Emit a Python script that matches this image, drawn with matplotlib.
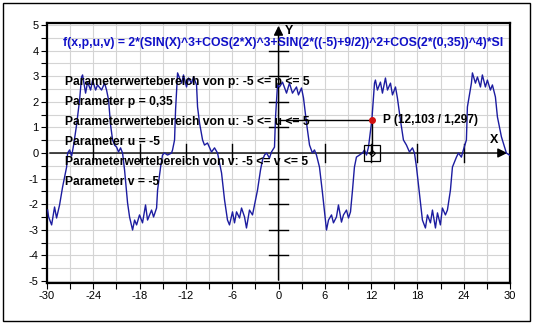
import numpy as np
import matplotlib
matplotlib.use("Agg")
import matplotlib.pyplot as plt
from matplotlib.patches import Rectangle

# curve
x_vals = [-29.92, -29.79, -29.40, -29.02, -28.76, -28.37, -27.98, -27.46, -27.33, -27.07,
          -26.81, -26.55, -26.17, -25.78, -25.52, -25.39, -25.00, -24.74, -24.35, -24.09,
          -23.70, -23.45, -22.93, -22.54, -22.28, -22.02, -21.76, -21.50, -21.24, -20.98,
          -20.73, -20.47, -20.21, -19.95, -19.56, -19.30, -18.91, -18.65, -18.39, -18.01,
          -17.62, -17.23, -16.97, -16.45, -16.19, -15.80, -15.67, -15.28, -15.03, -14.77,
          -14.38, -13.86, -13.73, -13.47, -13.34, -13.08, -12.56, -12.31, -11.92, -11.66,
          -11.27, -11.01, -10.62, -10.49, -10.23, -9.84, -9.59, -9.20, -8.68, -8.29,
          -7.90, -7.38, -6.99, -6.61, -6.35, -5.96, -5.70, -5.44, -5.05, -4.79,
          -4.40, -4.15, -3.76, -3.37, -3.11, -2.72, -2.33, -2.07, -1.81, -1.55,
          -1.17, -0.91, -0.52, -0.39, -0.13, 0.13, 0.52, 1.04, 1.42, 1.81,
          2.33, 2.59, 2.98, 3.24, 3.63, 4.02, 4.40, 4.66, 4.92, 5.31,
          5.70, 6.22, 6.48, 6.87, 7.12, 7.51, 7.77, 8.16, 8.42, 8.81,
          9.07, 9.33, 9.59, 9.84, 10.10, 10.49, 10.88, 11.14, 11.40, 11.66,
          12.10, 12.44, 12.56, 12.82, 13.21, 13.47, 13.86, 14.12, 14.51, 14.77,
          15.16, 15.41, 15.80, 16.19, 16.58, 16.97, 17.36, 17.62, 17.88, 18.26,
          18.65, 19.04, 19.30, 19.69, 19.95, 20.34, 20.60, 20.98, 21.24, 21.63,
          21.89, 22.28, 22.54, 23.06, 23.32, 23.70, 23.96, 24.35, 24.48, 25.00,
          25.13, 25.52, 25.78, 26.17, 26.42, 26.81, 27.07, 27.46, 27.72, 28.11,
          28.37, 28.89, 29.53, 29.92]
y_vals = [-2.23, -2.50, -2.81, -2.11, -2.54, -2.03, -1.33, -0.55, 0.00, 0.12,
          -0.12, 0.31, 1.09, 2.07, 2.97, 3.05, 2.34, 2.77, 2.46, 2.85,
          2.46, 2.66, 2.46, 2.73, 2.46, 2.07, 1.09, 0.51, 0.31, 0.23,
          0.04, 0.20, 0.00, -0.66, -1.95, -2.50, -3.01, -2.62, -2.81, -2.42,
          -2.73, -2.03, -2.62, -2.23, -2.50, -2.15, -1.45, -0.55, -0.08, 0.00,
          -0.08, 0.00, 0.12, 0.51, 1.68, 3.13, 2.73, 3.05, 2.58, 2.93,
          2.73, 2.97, 2.66, 1.80, 1.17, 0.51, 0.31, 0.39, 0.04, 0.20,
          0.00, -0.78, -1.84, -2.62, -2.81, -2.30, -2.73, -2.30, -2.54, -2.15,
          -2.50, -2.93, -2.23, -2.42, -2.03, -1.45, -0.66, -0.27, -0.08, 0.00,
          -0.20, 0.04, 0.23, 1.37, 2.66, 2.58, 2.77, 2.34, 2.73, 2.34,
          2.58, 2.27, 2.54, 2.15, 1.17, 0.31, 0.00, 0.12, -0.08, -0.55,
          -1.56, -3.01, -2.62, -2.42, -2.73, -2.50, -2.03, -2.70, -2.42, -2.23,
          -2.54, -2.30, -1.45, -0.55, -0.16, -0.08, 0.00, 0.12, -0.08, 0.23,
          1.297, 2.73, 2.85, 2.46, 2.77, 2.34, 2.93, 2.46, 2.73, 2.27,
          2.58, 2.15, 1.29, 0.51, 0.31, 0.04, 0.20, 0.00, -0.55, -1.56,
          -2.62, -2.93, -2.42, -2.73, -2.23, -2.93, -2.34, -2.81, -2.15, -2.42,
          -2.23, -1.45, -0.55, -0.16, 0.00, -0.16, 0.12, 0.51, 1.80, 2.73,
          3.13, 2.73, 2.97, 2.58, 3.05, 2.58, 2.85, 2.46, 2.66, 2.19,
          1.41, 0.63, 0.00, -0.08]

formula = "f(x,p,u,v) = 2*(SIN(X)^3+COS(2*X)^3+SIN(2*((-5)+9/2))^2+COS(2*(0,35))^4)*SI"
info_lines = ["Parameterwertebereich von p: -5 <= p <= 5",
              "Parameter p = 0,35",
              "Parameterwertebereich von u: -5 <= u <= 5",
              "Parameter u = -5",
              "Parameterwertebereich von v: -5 <= v <= 5",
              "Parameter v = -5"]
px, py = 12.103, 1.297
point_label = "P (12,103 / 1,297)"

x_ticks = np.arange(-30, 31, 6)
y_ticks = np.arange(-5, 6, 1)

plt.rcParams['font.family'] = ['Liberation Sans', 'DejaVu Sans']

fig = plt.figure(figsize=(5.33, 3.24), dpi=100)
ax = fig.add_axes([47/533, 41/324, 463/533, 260/324])
ax.set_xlim(-30, 30)
ax.set_ylim(-5.08, 5.08)

# grid
ax.set_xticks(np.arange(-30, 31, 3), minor=True)
ax.set_yticks(np.arange(-5, 5.1, 0.5), minor=True)
ax.grid(True, which='both', color='#d4d4d4', lw=0.8)
ax.set_axisbelow(True)
ax.set_xticks(x_ticks)
ax.set_yticks(y_ticks)
ax.set_xticklabels([str(v) for v in x_ticks], fontsize=8)
ax.set_yticklabels([str(v) for v in y_ticks], fontsize=8)
ax.tick_params(which='both', direction='out', length=4, width=0.8, pad=2)
for s in ax.spines.values():
    s.set_linewidth(1.6)
    s.set_color('black')

# axes through origin
ax.annotate('', xy=(30, 0), xytext=(-30, 0),
            arrowprops=dict(arrowstyle='-|>', color='black', lw=1, mutation_scale=14))
ax.annotate('', xy=(0, 5.08), xytext=(0, -5.08),
            arrowprops=dict(arrowstyle='-|>', color='black', lw=1, mutation_scale=14))
for t in x_ticks[1:-1]:
    if t != 0:
        ax.plot([t, t], [-0.35, 0.35], color='black', lw=1)
for t in y_ticks[1:-1]:
    if t != 0:
        ax.plot([-1.2, 1.2], [t, t], color='black', lw=1)
ax.text(28.0, 0.5, 'X', fontsize=9, fontweight='bold', ha='center', va='center')
ax.text(1.4, 4.78, 'Y', fontsize=9, fontweight='bold', ha='center', va='center')

# curve
ax.plot(x_vals, y_vals, color='#1c1ca0', lw=1, zorder=3)

# point P
ax.plot([0, px], [py, py], color='black', lw=1, zorder=4)
ax.plot([px, px], [0, py], color='black', lw=1, zorder=4)
ax.plot(px, py, 'o', color='#d01010', ms=4, zorder=5)
ax.plot(px, 0, 's', mfc='none', mec='black', ms=11, mew=0.9, zorder=5)
ax.plot(px, 0, 'D', mfc='none', mec='black', ms=3, mew=0.8, zorder=5)
ax.text(px + 1.4, py, point_label, fontsize=8.6, fontweight='bold', va='center', zorder=6)

# texts
ax.text(-27.98, 4.28, formula, color='#1010c8', fontsize=8.85, fontweight='bold',
        va='center', clip_on=True, zorder=6)
for i, line in enumerate(info_lines):
    ax.text(-27.7, 2.77 - 0.78 * i, line, fontsize=8.7, fontweight='bold',
            va='center', zorder=6)

fig.add_artist(Rectangle((3/533, 3/324), 527/533, 318/324, transform=fig.transFigure,
                         fill=False, ec='black', lw=1))

fig.savefig('out.png', dpi=100)
